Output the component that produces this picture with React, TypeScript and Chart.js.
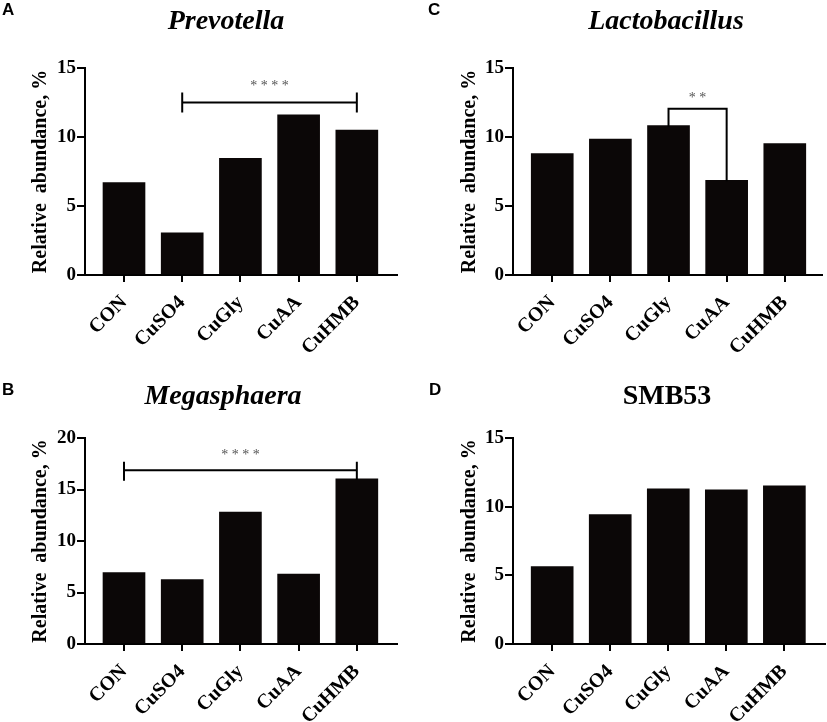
import { useEffect, useRef } from 'react';
import { Chart, registerables } from 'chart.js';

Chart.register(...registerables);

const categories = ['CON', 'CuSO4', 'CuGly', 'CuAA', 'CuHMB'];

const prevotellaValues = [6.7, 3.05, 8.45, 11.6, 10.5];
const lactobacillusValues = [8.8, 9.85, 10.82, 6.86, 9.52];
const megasphaeraValues = [6.93, 6.25, 12.8, 6.8, 16.03];
const smb53Values = [5.63, 9.43, 11.29, 11.22, 11.51];

const yTicks15 = [0, 5, 10, 15];
const yTicks20 = [0, 5, 10, 15, 20];

// significance brackets: category indices, bracket level, leg extents [top, bottom], star label level
const prevotellaSig = { from: 1, to: 4, level: 12.5, left: [13.15, 11.85], right: [13.15, 11.85], stars: '* * * *', starsAt: 13.9 };
const lactobacillusSig = { from: 2, to: 3, level: 12.05, left: [12.05, 10.82], right: [12.05, 6.86], stars: '* *', starsAt: 13.0 };
const megasphaeraSig = { from: 0, to: 4, level: 16.87, left: [17.6, 15.95], right: [17.6, 16.03], stars: '* * * *', starsAt: 18.64 };

const SERIF = '"Liberation Serif", "Times New Roman", Times, serif';
const SANS = '"Liberation Sans", Arial, Helvetica, sans-serif';

type Sig = { from: number; to: number; level: number; left: number[]; right: number[]; stars: string; starsAt: number };

type PanelCfg = {
  letter: string;
  title: string;
  italic: boolean;
  values: number[];
  yMax: number;
  yTicks: number[];
  sig: Sig | null;
  left: number;
  top: number;
  width: number;
  height: number;
  area: { left: number; right: number; top: number; bottom: number };
  xMin: number;
  xMax: number;
  letterX: number;
  letterY: number;
  titleX: number;
  titleY: number;
  yTitlePad: number;
};

const panels: PanelCfg[] = [
  {
    letter: 'A', title: 'Prevotella', italic: true, values: prevotellaValues, yMax: 15, yTicks: yTicks15, sig: prevotellaSig,
    left: 0, top: 0, width: 413, height: 361,
    area: { left: 85, right: 397, top: 68, bottom: 275 }, xMin: -0.67, xMax: 4.69,
    letterX: 2, letterY: 15, titleX: 226, titleY: 29, yTitlePad: 29,
  },
  {
    letter: 'C', title: 'Lactobacillus', italic: true, values: lactobacillusValues, yMax: 15, yTicks: yTicks15, sig: lactobacillusSig,
    left: 413, top: 0, width: 414, height: 361,
    area: { left: 100, right: 409, top: 68, bottom: 275 }, xMin: -0.675, xMax: 4.64,
    letterX: 15, letterY: 15, titleX: 253, titleY: 29, yTitlePad: 45,
  },
  {
    letter: 'B', title: 'Megasphaera', italic: true, values: megasphaeraValues, yMax: 20, yTicks: yTicks20, sig: megasphaeraSig,
    left: 0, top: 361, width: 413, height: 361,
    area: { left: 85, right: 397, top: 77, bottom: 283 }, xMin: -0.67, xMax: 4.69,
    letterX: 2, letterY: 34, titleX: 223, titleY: 43, yTitlePad: 29,
  },
  {
    letter: 'D', title: 'SMB53', italic: false, values: smb53Values, yMax: 15, yTicks: yTicks15, sig: null,
    left: 413, top: 361, width: 414, height: 361,
    area: { left: 100, right: 412, top: 77, bottom: 283 }, xMin: -0.675, xMax: 4.7,
    letterX: 16, letterY: 34, titleX: 254, titleY: 43, yTitlePad: 45,
  },
];

function Panel({ cfg }: { cfg: PanelCfg }) {
  const ref = useRef<HTMLCanvasElement | null>(null);

  useEffect(() => {
    const canvas = ref.current;
    if (!canvas) return;

    const overlay = {
      id: 'overlay',
      afterDraw(chart: any) {
        const { ctx } = chart;
        const x = chart.scales.x;
        const y = chart.scales.y;
        ctx.save();
        ctx.fillStyle = '#000';
        ctx.font = `bold 17px ${SANS}`;
        ctx.textAlign = 'left';
        ctx.textBaseline = 'alphabetic';
        ctx.fillText(cfg.letter, cfg.letterX, cfg.letterY);

        ctx.font = `${cfg.italic ? 'italic ' : ''}bold 28px ${SERIF}`;
        ctx.textAlign = 'center';
        ctx.fillText(cfg.title, cfg.titleX, cfg.titleY);

        const s = cfg.sig;
        if (s) {
          const x1 = x.getPixelForValue(s.from);
          const x2 = x.getPixelForValue(s.to);
          const yl = y.getPixelForValue(s.level);
          ctx.strokeStyle = '#000';
          ctx.lineWidth = 2;
          ctx.lineCap = 'square';
          ctx.beginPath();
          ctx.moveTo(x1, yl);
          ctx.lineTo(x2, yl);
          ctx.moveTo(x1, y.getPixelForValue(s.left[0]));
          ctx.lineTo(x1, y.getPixelForValue(s.left[1]));
          ctx.moveTo(x2, y.getPixelForValue(s.right[0]));
          ctx.lineTo(x2, y.getPixelForValue(s.right[1]));
          ctx.stroke();

          ctx.fillStyle = '#555';
          ctx.font = `14px ${SERIF}`;
          ctx.textAlign = 'center';
          ctx.textBaseline = 'middle';
          ctx.fillText(s.stars, (x1 + x2) / 2, y.getPixelForValue(s.starsAt) + 3);
        }
        ctx.restore();
      },
    };

    const chart = new Chart(canvas, {
      type: 'bar',
      data: {
        datasets: [
          {
            data: categories.map((_, i) => ({ x: i, y: cfg.values[i] })),
            backgroundColor: '#0b0707',
            borderWidth: 0,
            barThickness: 42,
          },
        ],
      },
      options: {
        animation: false,
        responsive: false,
        maintainAspectRatio: false,
        layout: {
          padding: { left: 0, top: cfg.area.top, right: cfg.width - cfg.area.right, bottom: 0 },
        },
        plugins: {
          legend: { display: false },
          title: { display: false },
          tooltip: { enabled: false },
        },
        scales: {
          x: {
            type: 'linear',
            min: cfg.xMin,
            max: cfg.xMax,
            offset: false,
            afterBuildTicks: (scale: any) => {
              scale.ticks = categories.map((_, i) => ({ value: i }));
            },
            afterFit: (scale: any) => {
              scale.height = cfg.height - cfg.area.bottom;
            },
            grid: {
              offset: false,
              drawOnChartArea: false,
              drawTicks: true,
              tickLength: 7,
              color: '#000',
              lineWidth: 2,
            },
            border: { display: true, color: '#000', width: 2 },
            ticks: {
              autoSkip: false,
              minRotation: 45,
              maxRotation: 45,
              padding: 9,
              color: '#000',
              font: { family: SERIF, size: 20, weight: 'bold' },
              callback: (_v: any, i: number) => categories[i],
            },
          },
          y: {
            type: 'linear',
            min: 0,
            max: cfg.yMax,
            afterBuildTicks: (scale: any) => {
              scale.ticks = cfg.yTicks.map((v) => ({ value: v }));
            },
            afterFit: (scale: any) => {
              scale.width = cfg.area.left;
            },
            grid: {
              drawOnChartArea: false,
              drawTicks: true,
              tickLength: 8,
              color: '#000',
              lineWidth: 2,
            },
            border: { display: true, color: '#000', width: 2 },
            ticks: {
              padding: 1,
              color: '#000',
              font: { family: SERIF, size: 19, weight: 'bold' },
            },
            title: {
              display: true,
              text: 'Relative  abundance, %',
              color: '#000',
              font: { family: SERIF, size: 20, weight: 'bold' },
              padding: { top: cfg.yTitlePad, bottom: 0 },
            },
          },
        },
      } as any,
      plugins: [overlay],
    });

    return () => chart.destroy();
  }, [cfg]);

  return (
    <div style={{ position: 'absolute', left: cfg.left, top: cfg.top, width: cfg.width, height: cfg.height }}>
      <canvas ref={ref} width={cfg.width} height={cfg.height} style={{ width: cfg.width, height: cfg.height, display: 'block' }} />
    </div>
  );
}

export default function App() {
  return (
    <div style={{ position: 'absolute', left: 0, top: 0, width: 827, height: 722, background: '#fff' }}>
      {panels.map((p) => (
        <Panel key={p.letter} cfg={p} />
      ))}
    </div>
  );
}
